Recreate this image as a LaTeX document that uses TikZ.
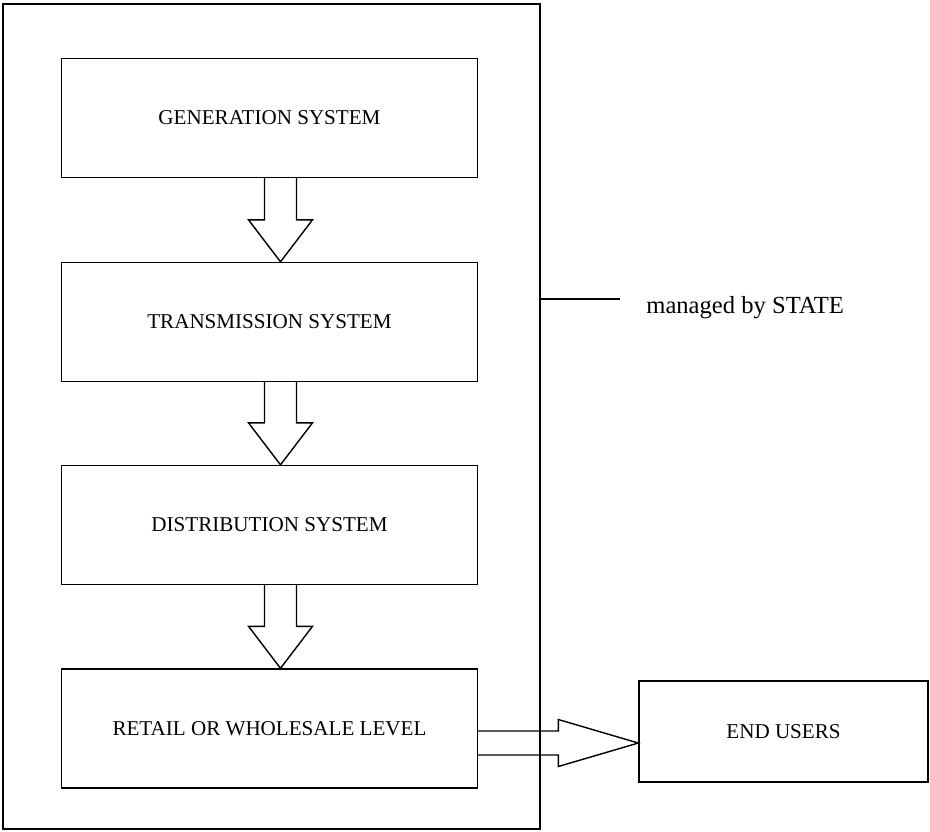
\documentclass[tikz,border=0pt]{standalone}
\usepackage{fontspec}
\setmainfont{Liberation Serif}
\usetikzlibrary{positioning,calc}

\begin{document}
\begin{tikzpicture}[
    level/.style={rectangle, draw=black, line width=0.8pt, minimum width=8.32cm, minimum height=2.38cm, align=center, font=\fontsize{12}{14}\selectfont},
    frame/.style={rectangle, draw=black, line width=0.8pt},
    blockarrow/.style={draw=black, line width=0.8pt, line join=miter}
]
\useasboundingbox (0,0) rectangle (18.6,-16.62);

% Outer frame (state)
\node[frame, minimum width=10.74cm, minimum height=16.5cm] (state) at (5.43,-8.33) {};

% Levels of the chain
\node[level] (gen) at (5.39,-2.36) {GENERATION SYSTEM};
\node[level] (trans) at (5.39,-6.44) {TRANSMISSION SYSTEM};
\node[level] (dist) at (5.39,-10.5) {DISTRIBUTION SYSTEM};
\node[level] (retail) at (5.39,-14.57) {RETAIL OR WHOLESALE LEVEL};

% End users
\node[frame, minimum width=5.78cm, minimum height=2.02cm, font=\fontsize{12}{14}\selectfont] (users) at (15.67,-14.63) {END USERS};

% Block arrows down the chain
\foreach \a/\b in {gen/trans, trans/dist, dist/retail} {
    \draw[blockarrow] ($(\a.south)+(-0.1,0)$) -- ($(\b.north)+(-0.1,0.84)$) -- ++(-0.32,0)
        -- ($(\b.north)+(0.22,0)$) -- ++(0.64,0.84) -- ++(-0.32,0) -- ($(\a.south)+(0.54,0)$);
}

% Block arrow to end users
\coordinate (shaftmid) at ($(retail.east)+(0,-0.29)$);
\coordinate (tip) at (shaftmid -| users.west);
\draw[blockarrow] ($(shaftmid)+(0,0.24)$) -- ($(tip)+(-1.6,0.24)$) -- ++(0,0.23) -- (tip)
    -- ++(-1.6,-0.47) -- ++(0,0.23) -- ($(shaftmid)+(0,-0.24)$);

% Annotation
\coordinate (tick) at (12.4,-5.98);
\draw[line width=0.8pt] (state.east |- tick) -- (tick);
\node[anchor=base west, inner sep=0pt, font=\fontsize{14}{16}\selectfont] (managed) at (12.92,-6.26) {managed by STATE};

\end{tikzpicture}
\end{document}
